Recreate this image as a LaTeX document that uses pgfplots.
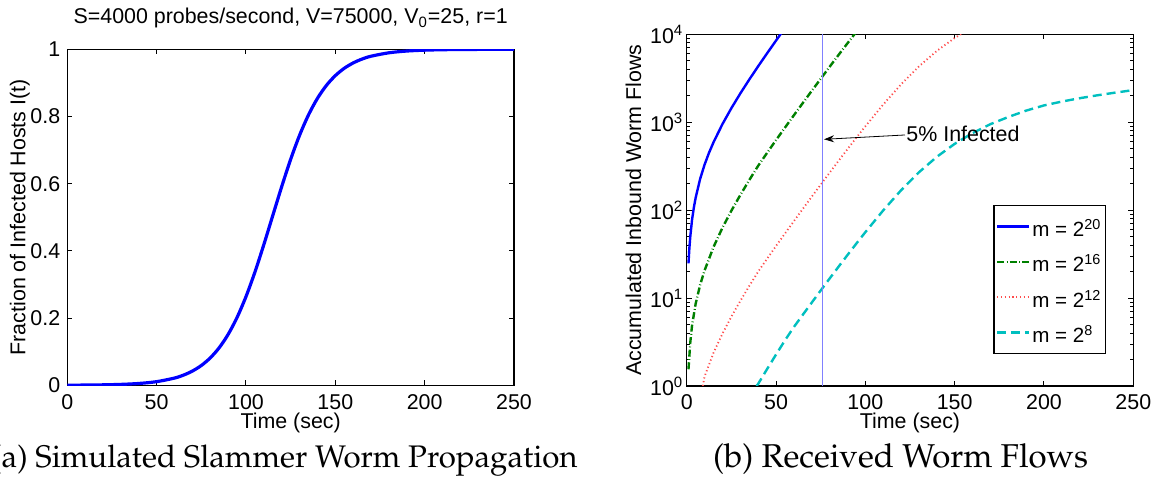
\documentclass[border=0pt]{standalone}
\usepackage[T1]{fontenc}
\usepackage{fontspec}
\setmainfont{Liberation Sans}
\usepackage{pgfplots}
\pgfplotsset{compat=1.18}
\usetikzlibrary{arrows.meta}
\newcommand{\capfont}{\fontencoding{T1}\fontfamily{ppl}\fontseries{m}\fontshape{n}\fontsize{16.5}{19}\selectfont}
\newcommand{\capfonta}{\fontencoding{T1}\fontfamily{ppl}\fontseries{m}\fontshape{n}\fontsize{15.6}{18}\selectfont}
\definecolor{mgreen}{rgb}{0,0.5,0}
\definecolor{mcyan}{rgb}{0,0.75,0.75}
\definecolor{mred}{rgb}{1,0.3,0.3}
\definecolor{vline}{rgb}{0.5,0.5,1}
\pgfplotsset{
  mystyle/.style={
    scale only axis,
    anchor=south west,
    axis line style={line width=0.6pt},
    every tick/.style={black, line width=0.5pt},
    major tick length=2.5pt,
    minor tick length=1.5pt,
    tick align=inside,
    /pgf/number format/assume math mode=true,
    xmin=0, xmax=250, xtick={0,50,100,150,200,250},
    xticklabel style={anchor=base, yshift=-12pt},
    xlabel={Time (sec)},
    every axis x label/.style={at={(axis description cs:0.5,0)}, anchor=base, yshift=-21.4pt},
  }
}
\begin{document}
\begin{tikzpicture}[font=\fontsize{10.7}{12.8}\selectfont]
\begin{axis}[mystyle, at={(33.65pt,49.85pt)}, width=223.35pt, height=168pt,
  ymin=0, ymax=1, ytick={0,0.2,0.4,0.6,0.8,1},
  title={S=4000 probes/second, V=75000, V\textsubscript{0}=25, r=1},
  every axis title/.style={at={(axis description cs:0.5,1)}, anchor=base, yshift=12.65pt},
  ylabel={Fraction of Infected Hosts I(t)},
  every axis y label/.style={at={(axis description cs:-0.0936,0.5)}, rotate=90, anchor=base},
]
\addplot[blue, line width=1.6pt, smooth] coordinates {
(0,0.00033) (10,0.00067) (20,0.00135) (30,0.0027) (40,0.00541) (50,0.0108) (60,0.0215)
(65,0.0302) (70,0.0423) (75,0.0589) (80,0.0815) (85,0.1117) (90,0.1513) (95,0.2018)
(100,0.2639) (105,0.3369) (110,0.4188) (115,0.5053) (120,0.5914) (125,0.6724) (130,0.7442)
(135,0.8048) (140,0.854) (145,0.8924) (150,0.9216) (155,0.9434) (160,0.9594) (165,0.971)
(170,0.9794) (180,0.9896) (190,0.9948) (200,0.9974) (210,0.9987) (220,0.99935) (235,0.9998) (250,0.99992)
};
\end{axis}
\begin{axis}[mystyle, at={(343.35pt,49.5pt)}, width=223.3pt, height=175.85pt,
  ymode=log, ymin=1, ymax=10000, ytick={1,10,100,1000,10000},
  yticklabels={10\textsuperscript{0},10\textsuperscript{1},10\textsuperscript{2},10\textsuperscript{3},10\textsuperscript{4}},
  yticklabel style={inner xsep=1.5pt},
  ylabel={Accumulated Inbound Worm Flows},
  every axis y label/.style={at={(axis description cs:-0.1023,0.5)}, rotate=90, anchor=base},
  legend cell align=left,
  legend image code/.code={\draw[#1] (0pt,0pt) -- (16pt,0pt);},
  legend style={at={(axis description cs:0.939,0.091)}, anchor=south east, draw=black, line width=0.6pt,
    fill=white, inner xsep=1pt, inner ysep=1.5pt, row sep=0pt, column sep=0pt,
    font=\fontsize{10.3}{12}\selectfont,
    nodes={inner xsep=1pt, inner ysep=2.2pt, text height=11.7pt, text depth=1.6pt}},
]
\addplot[blue, line width=1.2pt] coordinates {
(1,24.8) (1.5,37.1) (2,50) (3,78) (4,107) (5,138) (7.5,226) (10,329) (12.5,450) (15,591) (20,951)
(25,1444) (30,2123) (35,3052) (40,4331) (45,6077) (50,8484) (55,11768)
};
\addlegendentry{m = 2\textsuperscript{20}}
\addplot[mgreen, line width=1.2pt, dash pattern=on 3.5pt off 1.2pt on 0.4pt off 1.2pt] coordinates {
(1,1.55) (2,3.13) (3,4.9) (5,8.6) (7.5,14.1) (10,20.6) (15,38.0) (20,63.0) (25,98.4) (30,148.6)
(35,219.4) (40,319.4) (45,448.2) (50,625.8) (55,867.9) (60,1199.8) (65,1654) (70,2274) (75,3118)
(80,4266) (85,5819) (90,7904) (95,10694)
};
\addlegendentry{m = 2\textsuperscript{16}}
\addplot[mred, line width=0.9pt, dash pattern=on 0.6pt off 1.3pt] coordinates {
(9,1) (10,1.28) (15,2.38) (20,3.93) (25,6.15) (30,9.28) (35,13.71) (40,19.97) (45,28.01) (50,39.11)
(55,54.24) (60,74.99) (65,103.4) (70,142.2) (75,194.8) (80,266.6) (85,363.7) (90,494.0) (95,668.4)
(100,898.3) (110,1589) (120,2693) (130,4311) (140,6464) (150,9078) (160,12028)
};
\addlegendentry{m = 2\textsuperscript{12}}
\addplot[mcyan, line width=1.2pt, dash pattern=on 4.5pt off 2.5pt] coordinates {
(39.1,1) (40,1.057) (45,1.558) (50,2.278) (55,3.304) (60,4.687) (65,6.462) (70,8.884) (75,12.18)
(80,16.66) (85,22.73) (90,30.87) (95,41.77) (100,56.14) (110,99.33) (120,168.3) (130,269.4)
(140,404.0) (150,567.3) (160,751.7) (170,949.7) (180,1145.8) (190,1354.5) (200,1552)
(210,1718) (220,1875) (230,2025) (240,2172) (250,2318)
};
\addlegendentry{m = 2\textsuperscript{8}}
\addplot[vline, line width=0.8pt, forget plot] coordinates {(76.1,1) (76.1,10000)};
\draw[-{Stealth[length=5pt,width=3.5pt]}, line width=0.4pt] (axis cs:122.2,716) -- (axis cs:76.9,639);
\node[anchor=base west, inner sep=0pt] at (axis cs:122.8,596) {5\% Infected};
\end{axis}
\node[anchor=base east, inner sep=0pt, font=\capfonta] at (289pt,8.5pt) {(a) Simulated Slammer Worm Propagation};
\node[anchor=base, inner sep=0pt, font=\capfont] at (450.3pt,8.5pt) {(b) Received Worm Flows};
\pgfresetboundingbox
\useasboundingbox (0,0) rectangle (578pt,242.5pt);
\end{tikzpicture}
\end{document}
